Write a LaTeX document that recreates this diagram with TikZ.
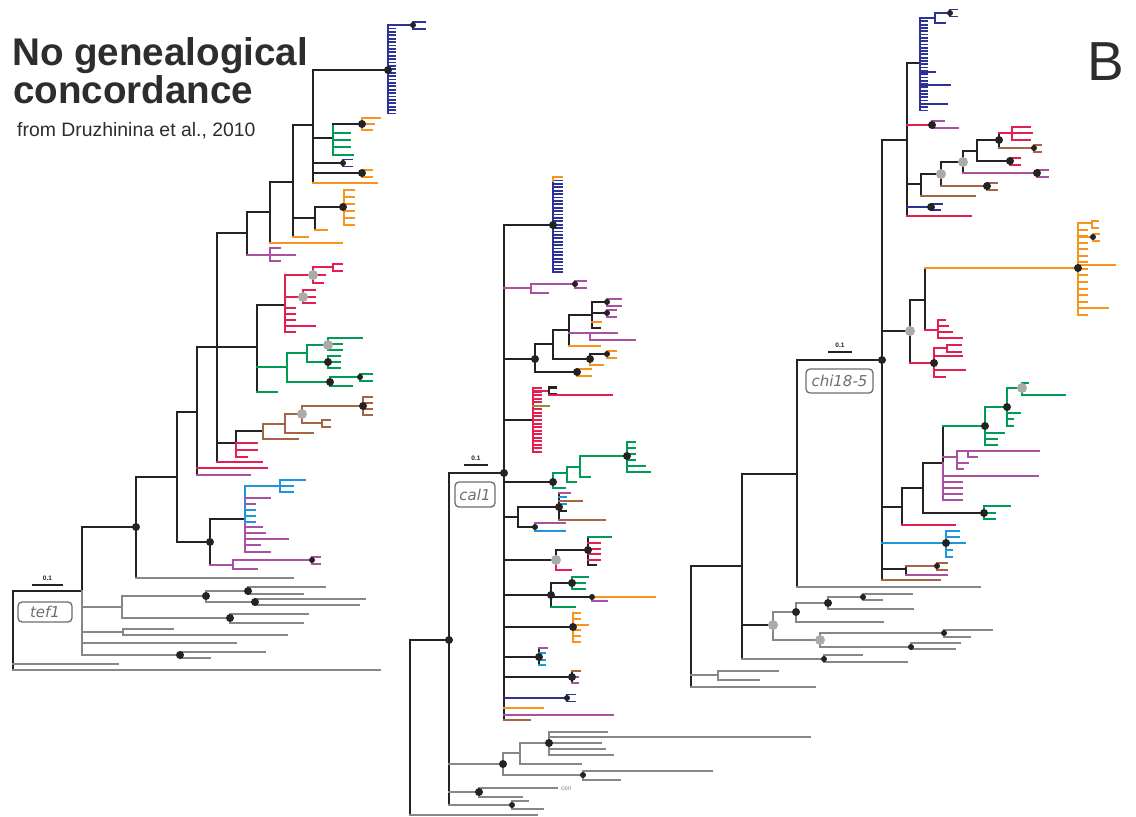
\documentclass[tikz,border=0pt]{standalone}
\usepackage{fontspec}
\setmainfont{Liberation Sans}
\newfontfamily\lblfont{DejaVu Sans}
\definecolor{kc}{RGB}{35,35,35}
\definecolor{gc}{RGB}{135,135,135}
\definecolor{dc}{RGB}{170,170,170}
\definecolor{bc}{RGB}{45,50,150}
\definecolor{oc}{RGB}{247,148,29}
\definecolor{nc}{RGB}{0,155,85}
\definecolor{rc}{RGB}{228,30,80}
\definecolor{pc}{RGB}{170,80,160}
\definecolor{wc}{RGB}{165,100,70}
\definecolor{cc}{RGB}{30,150,220}
\definecolor{yc}{RGB}{150,140,60}
\definecolor{lc}{RGB}{110,110,110}
\definecolor{tc}{RGB}{45,45,45}
\newcommand\bdot[1]{\fill[kc] (#1) circle (4pt);}
\newcommand\sdot[1]{\fill[kc] (#1) circle (3pt);}
\newcommand\gdot[1]{\fill[dc] (#1) circle (5pt);}
\newcommand\fk[4]{\draw[#1] ({#2+#4},{#3-3.5}) -- (#2,{#3-3.5}) -- (#2,{#3+3.5}) -- ({#2+#4},{#3+3.5});}
\newcommand\cmb[6]{\draw[#1] (#2,#3) -- (#2,{#3+#5*#4});
  \foreach \i in {0,...,#5} {\draw[#1] (#2,{#3+\i*#4}) -- ({#2+#6},{#3+\i*#4});}}
\begin{document}
\begin{tikzpicture}[x=1pt,y=-1pt,
  sK/.style={draw=kc,line width=2.4pt,line cap=rect},
  sG/.style={draw=gc,line width=1.5pt,line cap=rect},
  sB/.style={draw=bc,line width=1.8pt,line cap=rect},
  sO/.style={draw=oc,line width=2pt,line cap=rect},
  sN/.style={draw=nc,line width=2pt,line cap=rect},
  sR/.style={draw=rc,line width=2pt,line cap=rect},
  sP/.style={draw=pc,line width=2pt,line cap=rect},
  sW/.style={draw=wc,line width=2pt,line cap=rect},
  sC/.style={draw=cc,line width=2pt,line cap=rect},
  sY/.style={draw=yc,line width=2pt,line cap=rect},
  lbl/.style={draw=lc,line width=1.3pt,rounded corners=4pt,text=lc,
    font=\lblfont\itshape\fontsize{15}{15}\selectfont,inner sep=0pt},
  sbar/.style={draw=kc,line width=2pt},
  stxt/.style={font=\bfseries\fontsize{6.5}{6.5}\selectfont,text=kc,inner sep=0pt}]
\useasboundingbox[fill=white] (0,0) rectangle (1136,817);

% ---------------- titles
\node[anchor=base west,inner sep=0pt,text=tc,font=\bfseries\fontsize{38.6}{38.6}\selectfont] (t1) at (12,65) {No genealogical};
\node[anchor=base west,inner sep=0pt,text=tc,font=\bfseries\fontsize{38.6}{38.6}\selectfont] (t2) at (13,103) {concordance};
\node[anchor=base west,inner sep=0pt,text=tc,font=\fontsize{19.4}{19.4}\selectfont] (t3) at (17,136) {from Druzhinina et al., 2010};
\node[anchor=base west,inner sep=0pt,text=tc,font=\fontsize{55}{55}\selectfont] (tB) at (1087,80) {B};

% ================= TREE 1 : tef1
\draw[sK] (13,670) -- (13,591) -- (82,591) -- (82,527) -- (136,527);
\draw[sG] (82,591) -- (82,655);
\draw[sG] (13,664) -- (118,664);
\draw[sG] (13,670) -- (380,670);
\draw[sK] (136,578) -- (136,477) -- (177,477);
\draw[sG] (136,578) -- (293,578);
\draw[sK] (197,412) -- (177,412) -- (177,542) -- (210,542);
\draw[sK] (210,565) -- (210,519) -- (245,519);
% grey outgroup
\draw[sG] (82,607) -- (122,607);
\draw[sG] (206,596) -- (122,596) -- (122,618) -- (230,618);
\draw[sG] (248,591) -- (206,591) -- (206,602) -- (255,602);
\draw[sG] (325,587) -- (248,587) -- (248,594) -- (303,594);
\draw[sG] (365,599) -- (255,599) -- (255,605) -- (359,605);
\draw[sG] (308,614) -- (230,614) -- (230,623) -- (303,623);
\draw[sG] (82,632) -- (123,632);
\draw[sG] (173,629) -- (123,629) -- (123,635) -- (287,635);
\draw[sG] (82,643) -- (236,643);
\draw[sG] (82,655) -- (180,655);
\draw[sG] (265,652) -- (180,652) -- (180,658) -- (210,658);
% purple / blue lower clade
\draw[sP] (210,565) -- (233,565);
\draw[sP] (312,560) -- (233,560) -- (233,569) -- (257,569);
\fk{sP}{312}{560}{8}
\draw[sC] (245,522) -- (245,486) -- (280,486);
\draw[sP] (245,522) -- (245,552);
\draw[sC] (305,480) -- (280,480) -- (280,492) -- (293,492);
\draw[sC] (280,486) -- (293,486);
\foreach \yy/\ll in {498/270,504/255,527/262,533/265,539/288,545/260,552/270} \draw[sP] (245,\yy) -- (\ll,\yy);
\foreach \yy/\ll in {510/255,516/255,522/255} \draw[sC] (245,\yy) -- (\ll,\yy);
% middle
\draw[sK] (197,475) -- (197,347) -- (257,347);
\draw[sR] (197,468) -- (267,468);
\draw[sP] (197,475) -- (250,475);
\draw[sK] (247,233) -- (217,233) -- (217,462);
\draw[sR] (217,462) -- (262,462);
\draw[sK] (217,443) -- (236,443) -- (236,431) -- (263,431);
\draw[sR] (236,443) -- (236,457) -- (247,457);
\draw[sR] (236,443) -- (257,443);
\draw[sR] (236,450) -- (257,450);
% brown
\draw[sW] (263,424) -- (263,439) -- (298,439);
\draw[sW] (263,424) -- (285,424);
\draw[sW] (302,414) -- (285,414) -- (285,433) -- (313,433);
\draw[sW] (363,406) -- (302,406) -- (302,423) -- (322,423);
\cmb{sW}{363}{397}{6}{3}{9}
\fk{sW}{322}{423}{8}
% red
\draw[sK] (257,392) -- (257,305) -- (285,305);
\draw[sR] (285,275) -- (285,332);
\draw[sR] (285,275) -- (313,275);
\draw[sR] (285,297) -- (303,297);
\foreach \yy/\ll in {308/295,314/295,320/295,326/315,332/295} \draw[sR] (285,\yy) -- (\ll,\yy);
\draw[sR] (333,267) -- (313,267) -- (313,283) -- (323,283);
\draw[sR] (313,275) -- (325,275);
\fk{sR}{333}{267}{9}
\draw[sR] (315,290) -- (303,290) -- (303,303) -- (315,303);
\draw[sR] (303,297) -- (315,297);
% green
\draw[sN] (257,367) -- (287,367);
\draw[sN] (307,353) -- (287,353) -- (287,382) -- (330,382);
\draw[sN] (328,345) -- (307,345) -- (307,362) -- (328,362);
\draw[sN] (362,338) -- (328,338) -- (328,350) -- (342,350);
\draw[sN] (328,344) -- (342,344);
\draw[sN] (340,356) -- (328,356) -- (328,368) -- (340,368);
\draw[sN] (328,362) -- (340,362);
\draw[sN] (360,377) -- (330,377) -- (330,386) -- (352,386);
\fk{sN}{360}{377}{12}
\draw[sN] (257,392) -- (277,392);
% upper
\draw[sK] (247,255) -- (247,212) -- (270,212);
\draw[sP] (247,255) -- (270,255);
\draw[sP] (280,248) -- (270,248) -- (270,261) -- (280,261);
\draw[sP] (270,255) -- (295,255);
\draw[sK] (270,243) -- (270,182) -- (293,182);
\draw[sO] (270,243) -- (342,243);
\draw[sK] (293,237) -- (293,125) -- (313,125);
\draw[sO] (293,237) -- (308,237);
\draw[sK] (293,218) -- (315,218);
\draw[sK] (315,230) -- (315,207) -- (343,207);
\draw[sO] (315,230) -- (327,230);
\cmb{sO}{344}{190}{7}{5}{10}
\draw[sK] (313,183) -- (313,70) -- (388,70);
\draw[sO] (313,183) -- (377,183);
\draw[sK] (313,138) -- (333,138);
\draw[sN] (333,124) -- (333,155);
\draw[sK] (333,124) -- (362,124);
\foreach \yy/\ll in {133/350,140/350,147/350,155/353} \draw[sN] (333,\yy) -- (\ll,\yy);
\draw[sO] (380,118) -- (362,118) -- (362,130) -- (372,130);
\draw[sO] (362,124) -- (374,124);
\draw[sK] (313,163) -- (343,163);
\fk{sB}{343}{163}{9}
\draw[sK] (313,173) -- (362,173);
\fk{sO}{362}{173}{10}
\cmb{sB}{388}{25}{3.4}{26}{7}
\draw[sB] (388,25) -- (413,25);
\fk{sB}{413}{25.5}{12}
% dots tree 1
\bdot{136,527}\bdot{206,596}\bdot{230,618}\bdot{248,591}\bdot{255,602}\bdot{180,655}
\bdot{210,542}\sdot{312,560}\gdot{302,414}\bdot{363,406}\gdot{313,275}\gdot{303,297}
\gdot{328,345}\bdot{328,362}\bdot{330,382}\sdot{360,377}\bdot{343,207}\bdot{362,124}
\sdot{343,163}\bdot{362,173}\bdot{388,70}\sdot{413,25}
% label / scale
\draw[sbar] (32,585) -- (63,585);
\node[stxt] (s1) at (47.5,578) {0.1};
\node[lbl,minimum width=54pt,minimum height=20pt] (tef) at (45,612) {tef1};

% ================= TREE 2 : cal1
\draw[sK] (504,225) -- (504,720);
\draw[sK] (504,473) -- (449,473) -- (449,805);
\draw[sK] (449,640) -- (410,640) -- (410,815);
\draw[sG] (410,815) -- (537,815);
% blue
\draw[sK] (504,225) -- (553,225);
\cmb{sB}{553}{180.5}{3.4}{27}{9}
\draw[sO] (553,181) -- (553,177) -- (562,177);
% purple
\draw[sP] (504,288) -- (531,288);
\draw[sP] (575,284) -- (531,284) -- (531,293) -- (548,293);
\fk{sP}{575}{284}{11}
% black cluster
\draw[sK] (504,359) -- (535,359);
\draw[sK] (553,344) -- (535,344) -- (535,372) -- (577,372);
\fk{sO}{577}{372}{14}
\draw[sK] (569,330) -- (553,330) -- (553,359) -- (590,359);
\draw[sK] (607,354) -- (590,354) -- (590,359);
\draw[sO] (590,359) -- (590,365) -- (603,365);
\fk{sO}{607}{354}{9}
\draw[sK] (592,315) -- (569,315) -- (569,346);
\draw[sO] (569,346) -- (600,346);
\draw[sP] (569,333) -- (617,333);
\draw[sP] (590,333) -- (590,340) -- (635,340);
\draw[sK] (592,302) -- (592,328) -- (600,328);
\draw[sK] (592,302) -- (607,302);
\draw[sK] (592,313) -- (607,313);
\fk{sP}{607}{302}{14}
\fk{sP}{607}{313}{9}
\draw[sO] (592,322) -- (601,322);
% red
\draw[sK] (504,420) -- (533,420);
\cmb{sR}{533}{388}{3.55}{18}{8}
\draw[sR] (533,391) -- (549,391);
\fk{sK}{549}{391}{7}
\draw[sR] (549,394.5) -- (612,394.5);
\draw[sY] (533,405.5) -- (549,405.5);
% green
\draw[sK] (504,482) -- (553,482);
\draw[sN] (567,473) -- (553,473) -- (553,488) -- (565,488);
\draw[sN] (580,467) -- (567,467) -- (567,482) -- (576,482);
\draw[sN] (627,456) -- (580,456) -- (580,477) -- (590,477);
\foreach \yy/\ll in {442/635,448/635,454/635,460/635,466/645,472/650} \draw[sN] (627,\yy) -- (\ll,\yy);
\draw[sN] (627,442) -- (627,472);
% mixed 1
\draw[sK] (504,517) -- (518,517);
\draw[sK] (559,507) -- (518,507) -- (518,527) -- (535,527);
\draw[sK] (559,493) -- (559,520);
\draw[sP] (559,493) -- (570,493);
\draw[sC] (559,497) -- (566,497);
\draw[sW] (559,501) -- (582,501);
\draw[sC] (559,504) -- (566,504);
\draw[sK] (559,511) -- (566,511);
\draw[sW] (559,520) -- (605,520);
\draw[sP] (565,523) -- (535,523) -- (535,531);
\draw[sC] (535,531) -- (565,531);
% mixed 2
\draw[sK] (504,560) -- (556,560);
\draw[sK] (588,550) -- (556,550) -- (556,560);
\draw[sR] (556,560) -- (556,570) -- (571,570);
\draw[sK] (588,537) -- (588,565);
\draw[sN] (588,537) -- (611,537);
\foreach \yy in {543,549,554,560} \draw[sR] (588,\yy) -- (600,\yy);
\draw[sK] (588,565) -- (596,565);
% mixed 3
\draw[sK] (504,595) -- (551,595);
\draw[sK] (572,583) -- (551,583) -- (551,607);
\draw[sN] (551,607) -- (575,607);
\draw[sN] (588,577) -- (572,577) -- (572,589) -- (585,589);
\draw[sN] (572,583) -- (585,583);
\draw[sK] (551,597) -- (592,597);
\draw[sO] (592,597) -- (655,597);
\draw[sP] (592,597) -- (592,601) -- (607,601);
% orange
\draw[sK] (504,627) -- (573,627);
\cmb{sO}{573}{613}{5.8}{5}{7}
\draw[sO] (573,625) -- (588,625);
% small forks
\draw[sK] (504,657) -- (539,657);
\draw[sK] (539,648) -- (539,665);
\draw[sP] (539,648) -- (547,648);
\foreach \yy in {653,660,665} \draw[sC] (539,\yy) -- (545,\yy);
\draw[sK] (504,677) -- (572,677);
\draw[sK] (572,671) -- (572,683);
\draw[sW] (572,671) -- (580,671);
\draw[sP] (572,677) -- (578,677);
\draw[sP] (572,683) -- (578,683);
\draw[sB] (504,698) -- (567,698);
\fk{sB}{567}{698}{8}
\draw[sO] (504,708) -- (543,708);
\draw[sP] (504,715) -- (613,715);
\draw[sW] (504,720) -- (530,720);
% grey
\draw[sG] (449,764) -- (503,764);
\draw[sG] (520,753) -- (503,753) -- (503,775) -- (583,775);
\draw[sG] (549,743) -- (520,743) -- (520,764) -- (581,764);
\draw[sG] (549,732) -- (549,755);
\foreach \yy/\ll in {732/607,737/810,743/601,749/605,755/613} \draw[sG] (549,\yy) -- (\ll,\yy);
\draw[sG] (712,771) -- (583,771) -- (583,780) -- (620,780);
\draw[sG] (449,792) -- (479,792);
\draw[sG] (557,788) -- (479,788) -- (479,797) -- (522,797);
\draw[sG] (449,805) -- (512,805);
\draw[sG] (528,801) -- (512,801) -- (512,809) -- (543,809);
\node[anchor=west,inner sep=0pt,text=gc,font=\fontsize{6.5}{6.5}\selectfont] (ceri) at (561,788) {ceri};
% dots tree 2
\bdot{504,473}\bdot{449,640}\bdot{553,225}\sdot{575,284}\bdot{535,359}\bdot{577,372}
\bdot{590,359}\sdot{607,354}\sdot{607,302}\sdot{607,313}\bdot{553,482}\bdot{627,456}
\bdot{559,507}\sdot{535,527}\gdot{556,560}\bdot{588,550}\bdot{551,595}\bdot{572,583}
\sdot{592,597}\bdot{573,627}\bdot{539,657}\bdot{572,677}\sdot{567,698}
\bdot{503,764}\bdot{549,743}\sdot{583,775}\bdot{479,792}\sdot{512,805}
\draw[sbar] (464,465) -- (488,465);
\node[stxt] (s2) at (476,458) {0.1};
\node[lbl,minimum width=40pt,minimum height=25pt] (cal) at (475,494.5) {cal1};

% ================= TREE 3 : chi18-5
\draw[sK] (691,687) -- (691,566) -- (742,566);
\draw[sG] (691,687) -- (815,687);
\draw[sG] (691,675) -- (718,675);
\draw[sG] (778,671) -- (718,671) -- (718,680) -- (759,680);
\draw[sK] (742,659) -- (742,474) -- (797,474);
\draw[sG] (742,659) -- (824,659);
\draw[sG] (862,655) -- (824,655) -- (824,662) -- (907,662);
\draw[sK] (742,625) -- (773,625);
\draw[sG] (796,612) -- (773,612) -- (773,640) -- (820,640);
\draw[sG] (828,603) -- (796,603) -- (796,622) -- (883,622);
\draw[sG] (863,597) -- (828,597) -- (828,609) -- (913,609);
\draw[sG] (912,594) -- (863,594) -- (863,600) -- (882,600);
\draw[sG] (944,633) -- (820,633) -- (820,647) -- (911,647);
\draw[sG] (992,630) -- (944,630) -- (944,637) -- (970,637);
\draw[sG] (960,643) -- (911,643) -- (911,649) -- (955,649);
\draw[sK] (882,360) -- (797,360) -- (797,587);
\draw[sG] (797,587) -- (980,587);
\draw[sK] (882,580) -- (882,140) -- (907,140);
\draw[sK] (907,63) -- (907,215);
% blue top
\draw[sK] (907,63) -- (920,63);
\cmb{sB}{920}{18}{3.3}{28}{7}
\draw[sB] (920,72) -- (935,72);
\draw[sB] (920,85) -- (950,85);
\draw[sB] (920,104) -- (947,104);
\draw[sB] (920,18) -- (935,18);
\draw[sB] (950,13) -- (935,13) -- (935,23) -- (945,23);
\fk{sB}{950}{13}{7}
% purple
\draw[sR] (907,125) -- (932,125);
\draw[sP] (944,121) -- (932,121) -- (932,128) -- (958,128);
% black cluster
\draw[sK] (907,184) -- (921,184);
\draw[sK] (941,174) -- (921,174) -- (921,196);
\draw[sW] (921,196) -- (975,196);
\draw[sK] (963,162) -- (941,162) -- (941,186);
\draw[sW] (941,186) -- (987,186);
\fk{sW}{987}{186}{10}
\draw[sK] (977,151) -- (963,151) -- (963,173);
\draw[sP] (963,173) -- (1037,173);
\fk{sP}{1037}{173}{11}
\draw[sK] (999,140) -- (977,140) -- (977,161) -- (1010,161);
\fk{sR}{1010}{161}{10}
\draw[sK] (999,133) -- (999,148);
\draw[sR] (999,133) -- (1012,133);
\draw[sR] (1030,127) -- (1012,127) -- (1012,140) -- (1030,140);
\draw[sR] (1012,133) -- (1032,133);
\draw[sW] (999,148) -- (1034,148);
\fk{sW}{1034}{148}{7}
\draw[sB] (907,207) -- (931,207);
\draw[sB] (942,204) -- (931,204) -- (931,210) -- (940,210);
\draw[sR] (907,216) -- (971,216);
% orange
\draw[sK] (882,331) -- (910,331);
\draw[sK] (910,363) -- (910,300) -- (925,300);
\draw[sK] (925,330) -- (925,268);
\draw[sO] (925,268) -- (1078,268);
\cmb{sO}{1078}{223}{6.55}{14}{9}
\draw[sO] (1078,223) -- (1092,223);
\fk{sO}{1092}{224.5}{6}
\draw[sO] (1078,237) -- (1093,237);
\fk{sO}{1093}{237}{6}
\draw[sO] (1078,265) -- (1115,265);
\draw[sO] (1078,308) -- (1108,308);
\draw[sR] (925,330) -- (938,330);
\draw[sR] (938,320) -- (938,338);
\foreach \yy/\ll in {320/945,326/948,332/952,338/962} \draw[sR] (938,\yy) -- (\ll,\yy);
\draw[sR] (910,363) -- (934,363);
\draw[sR] (947,348) -- (934,348) -- (934,377) -- (945,377);
\fk{sR}{947}{348}{14}
\draw[sR] (934,356) -- (962,356);
\draw[sR] (934,370) -- (965,370);
% lower clade
\draw[sK] (882,507) -- (902,507);
\draw[sK] (923,488) -- (902,488) -- (902,525);
\draw[sR] (902,525) -- (955,525);
\draw[sK] (943,463) -- (923,463) -- (923,513) -- (984,513);
\draw[sN] (1010,506) -- (984,506) -- (984,519) -- (995,519);
\draw[sN] (984,513) -- (995,513);
\draw[sK] (943,463) -- (943,426);
\draw[sN] (943,426) -- (985,426);
\draw[sP] (943,463) -- (943,500);
\draw[sP] (943,457) -- (957,457);
\draw[sP] (1039,451) -- (957,451) -- (957,469) -- (963,469);
\draw[sP] (957,463) -- (968,463);
\draw[sP] (968,451) -- (968,457) -- (977,457);
\draw[sP] (943,476) -- (1038,476);
\foreach \yy in {482,488,494,500} \draw[sP] (943,\yy) -- (962,\yy);
\draw[sN] (1007,407) -- (985,407) -- (985,445) -- (997,445);
\draw[sN] (985,433) -- (1004,433);
\draw[sN] (985,439) -- (997,439);
\draw[sN] (1022,388) -- (1007,388) -- (1007,426) -- (1013,426);
\draw[sN] (1007,413) -- (1020,413);
\draw[sN] (1007,419) -- (1013,419);
\draw[sN] (1028,383) -- (1022,383) -- (1022,395) -- (1065,395);
% blue, brown, bottom
\draw[sC] (882,543) -- (946,543);
\draw[sC] (959,531) -- (946,531) -- (946,557) -- (952,557);
\draw[sC] (946,537) -- (959,537);
\draw[sC] (946,543) -- (965,543);
\draw[sC] (946,550) -- (952,550);
\draw[sK] (882,569) -- (906,569);
\draw[sK] (906,566) -- (906,575);
\draw[sW] (906,566) -- (937,566);
\fk{sW}{937}{566}{10}
\draw[sP] (906,575) -- (947,575);
\draw[sW] (882,580) -- (940,580);
% dots tree 3
\bdot{882,360}\sdot{950,13}\bdot{932,125}\gdot{941,174}\gdot{963,162}\bdot{987,186}
\bdot{1037,173}\bdot{1010,161}\bdot{999,140}\sdot{1034,148}\bdot{931,207}
\gdot{910,331}\bdot{1078,268}\sdot{1093,237}\bdot{934,363}
\bdot{984,513}\bdot{985,426}\bdot{1007,407}\gdot{1022,388}\bdot{946,543}\sdot{937,566}
\gdot{773,625}\bdot{796,612}\bdot{828,603}\sdot{863,597}\gdot{820,640}\sdot{944,633}\sdot{911,647}\sdot{824,659}
\draw[sbar] (828,352) -- (852,352);
\node[stxt] (s3) at (840,345) {0.1};
\node[lbl,minimum width=67pt,minimum height=24pt] (chi) at (839.5,381) {chi18-5};
\end{tikzpicture}
\end{document}
